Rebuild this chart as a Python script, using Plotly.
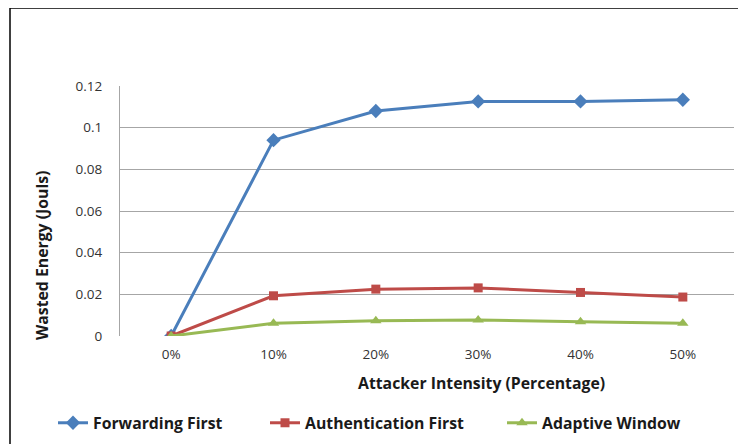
import plotly.graph_objects as go

categories = ["0%", "10%", "20%", "30%", "40%", "50%"]
forwarding_first = [0.0, 0.094, 0.108, 0.1126, 0.1126, 0.1134]
authentication_first = [0.0, 0.0193, 0.0225, 0.0231, 0.0209, 0.0187]
adaptive_window = [0.0, 0.0061, 0.0073, 0.0077, 0.0068, 0.0061]
y_ticks = [0, 0.02, 0.04, 0.06, 0.08, 0.1, 0.12]
y_tick_labels = ["0", "0.02", "0.04", "0.06", "0.08", "0.1", "0.12"]

OFF = 8  # page body margin
W, H = 746 - OFF, 444 - OFF
L, R, T, B = 120, 734, 86, 336  # plot area in reference pixels


def px_x(px):
    return (px - L) / (R - L)


def px_y(py):
    return (B - py) / (B - T)


FONT = "Open Sans"
TEXT_COLOR = "#1a1a1a"
TITLE_SIZE = 15.8

fig = go.Figure()
series = [
    ("Forwarding First", forwarding_first, "#4A7EBB", "diamond", 11, "legend"),
    ("Authentication First", authentication_first, "#BE4B48", "square", 9, "legend2"),
    ("Adaptive Window", adaptive_window, "#98B954", "triangle-up", 10, "legend3"),
]
for name, vals, color, sym, size, leg in series:
    fig.add_trace(go.Scatter(
        x=categories, y=vals, name=name, mode="lines+markers",
        line=dict(color=color, width=3),
        marker=dict(symbol=sym, size=size, color=color),
        legend=leg,
    ))

legend_common = dict(orientation="h", yanchor="middle", xanchor="left",
                     bgcolor="rgba(0,0,0,0)", tracegroupgap=0,
                     font=dict(family=FONT, size=TITLE_SIZE, color=TEXT_COLOR, weight="bold"),
                     itemwidth=30)
fig.update_layout(
    width=W, height=H,
    margin=dict(l=L - OFF, r=OFF + W - R, t=T - OFF, b=OFF + H - B, autoexpand=False),
    plot_bgcolor="white", paper_bgcolor="white",
    showlegend=True,
    legend=dict(x=px_x(93 - 40), y=px_y(423), **legend_common),
    legend2=dict(x=px_x(305 - 40), y=px_y(423), **legend_common),
    legend3=dict(x=px_x(542 - 40), y=px_y(423), **legend_common),
    xaxis=dict(
        type="category", range=[-0.5, 5.5], showgrid=False,
        showline=False, zeroline=False,
        tickfont=dict(family=FONT, size=13.5, color="#333333"),
        ticks="", ticklabelstandoff=8,
    ),
    yaxis=dict(
        range=[0, 0.12], tickvals=y_ticks, ticktext=y_tick_labels,
        showgrid=True, gridcolor="#A6A6A6", gridwidth=1,
        showline=True, linecolor="#A6A6A6", linewidth=1,
        zeroline=False, ticks="", ticklabelstandoff=14,
        tickfont=dict(family=FONT, size=13.5, color="#333333"),
    ),
    annotations=[
        dict(text="<b>Wasted Energy (Jouls)</b>", x=px_x(42), y=px_y(256),
             xref="paper", yref="paper", textangle=-90, showarrow=False,
             xanchor="center", yanchor="middle",
             font=dict(family=FONT, size=TITLE_SIZE, color=TEXT_COLOR)),
        dict(text="<b>Attacker Intensity (Percentage)</b>", x=px_x(481), y=px_y(383),
             xref="paper", yref="paper", showarrow=False,
             xanchor="center", yanchor="middle",
             font=dict(family=FONT, size=TITLE_SIZE, color=TEXT_COLOR)),
    ],
    shapes=[
        dict(type="line", xref="paper", yref="paper", x0=px_x(10), x1=px_x(760),
             y0=px_y(8), y1=px_y(8), line=dict(color="black", width=1.5)),
        dict(type="line", xref="paper", yref="paper", x0=px_x(10), x1=px_x(10),
             y0=px_y(8), y1=px_y(460), line=dict(color="black", width=1.5)),
    ],
)

fig.write_html("out.html")
